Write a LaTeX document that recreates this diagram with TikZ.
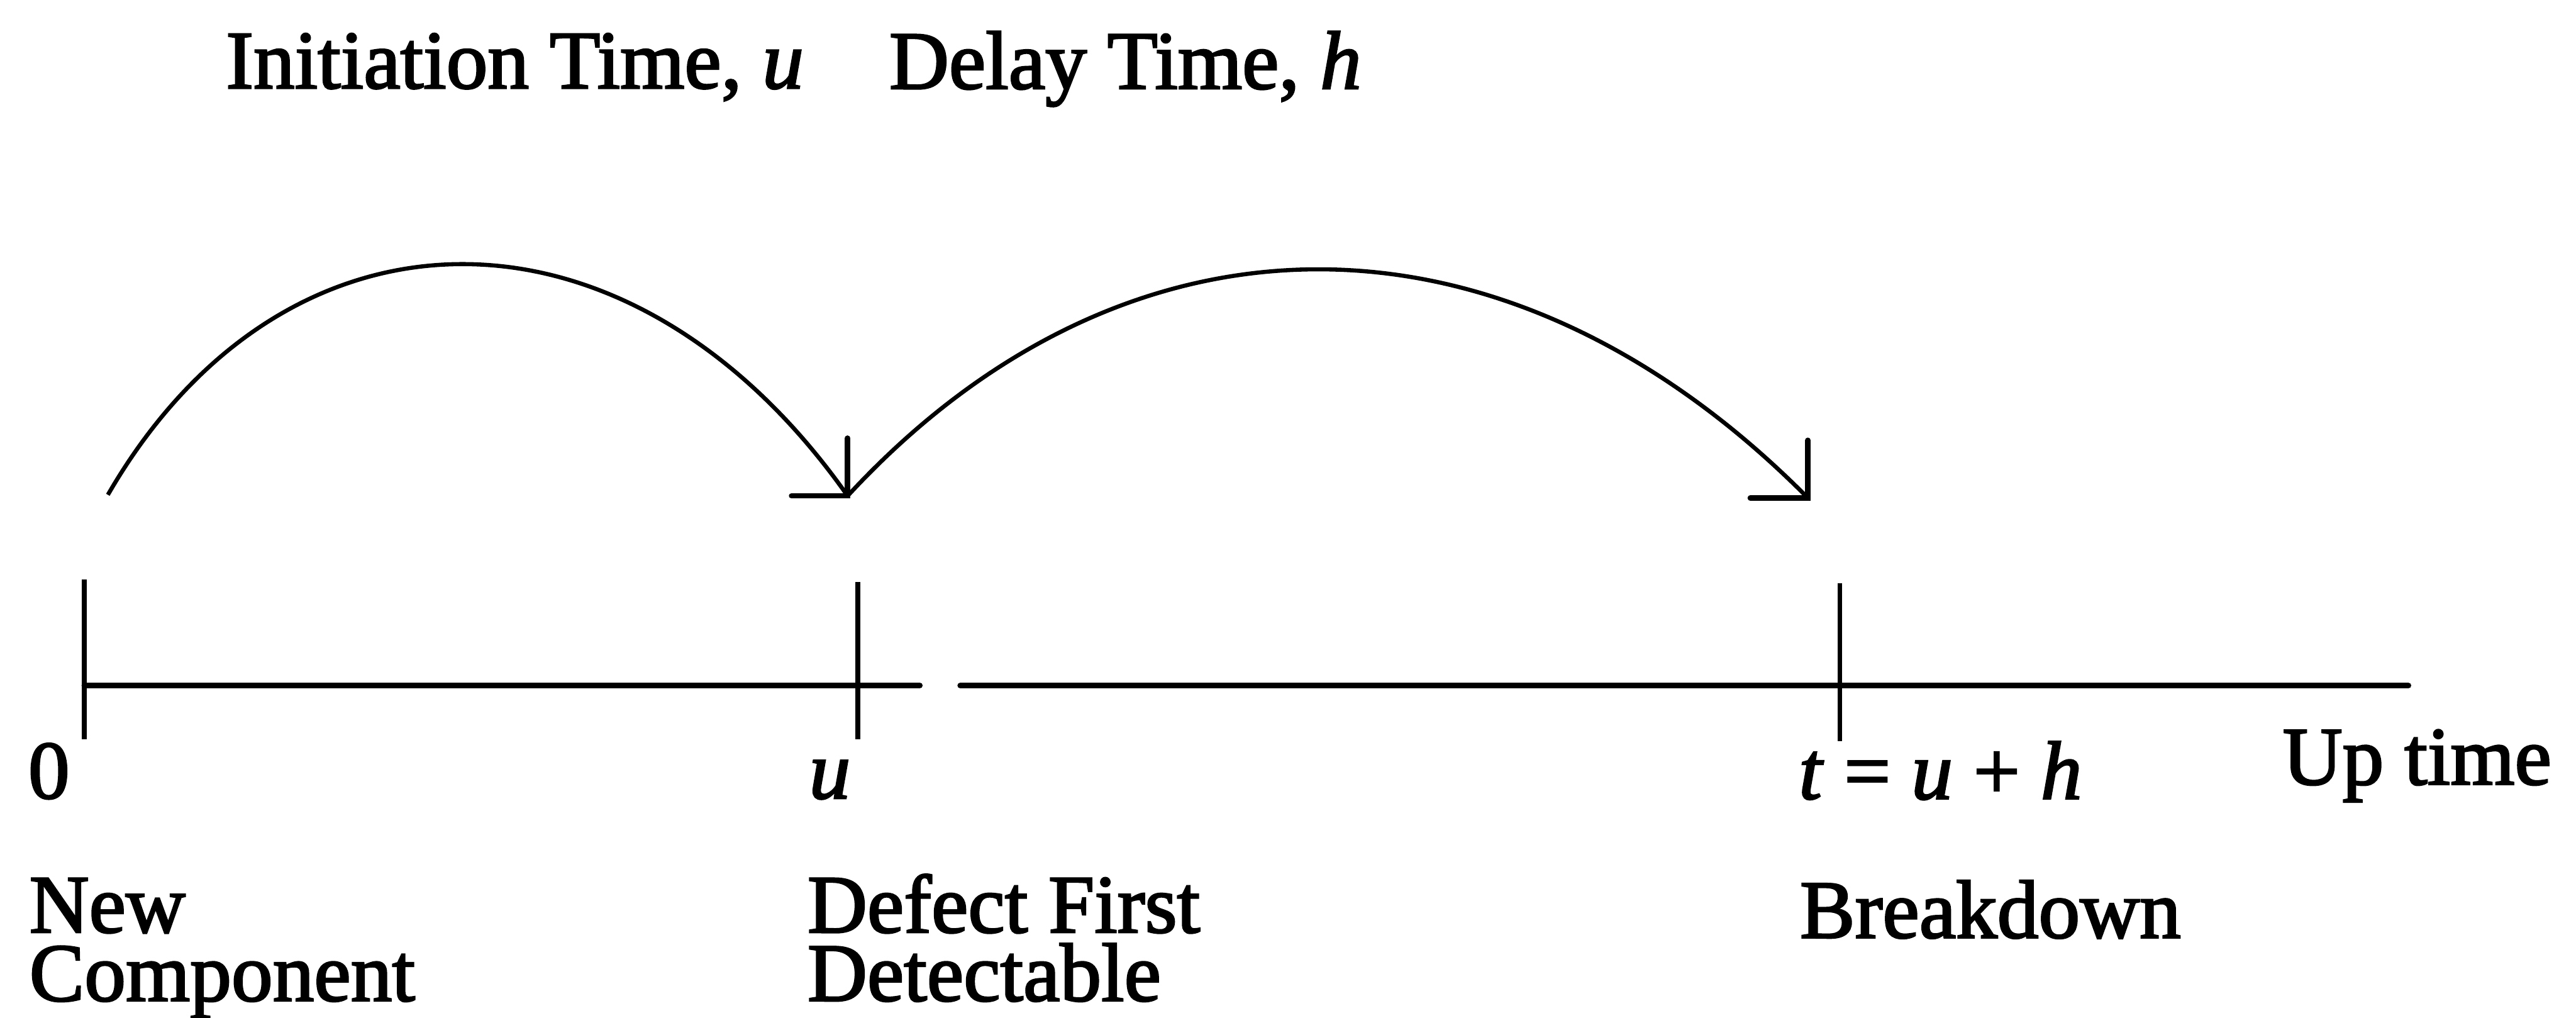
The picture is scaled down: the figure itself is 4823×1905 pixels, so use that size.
\documentclass[tikz,border=0pt]{standalone}
\usepackage{fontspec}
\setmainfont{Liberation Serif}[RawFeature={embolden=2.2}]
\usetikzlibrary{calc}
\newcommand\twolinelabel[2]{\vtop{\baselineskip=36.4pt\lineskiplimit=-100pt\hbox{#1}\hbox{#2}}}
\begin{document}
\begin{tikzpicture}[x=0.01cm,y=-0.01cm,
  lbl/.style={anchor=base west,inner sep=0pt,outer sep=0pt,font=\fontsize{44}{48}\selectfont},
  axisline/.style={line width=3.1pt,line cap=round},
  tickline/.style={line width=2.5pt},
  arcline/.style={line width=2.2pt},
  headarm/.style={line width=2.9pt,line cap=round,line join=miter}]
\useasboundingbox (0,0) rectangle (4823,1905);

% title
\node[lbl] (tinit) at (423,165) {Initiation Time, \textit{u}};
\node[lbl] (tdelay) at (1665,166) {Delay Time, \textit{h}};

% arcs
\coordinate (s0) at (202,926);
\coordinate (tipU) at (1587,928);
\coordinate (tipT) at (3385,932);
\draw[arcline] (s0) .. controls (535,350) and (1180,350) .. (tipU);
\draw[arcline] (tipU) .. controls (2110,362) and (2820,362) .. (tipT);
\draw[headarm] ($(tipU)+(-105,0)$) -- (tipU) -- ($(tipU)+(0,-108)$);
\draw[headarm] ($(tipT)+(-108,0)$) -- (tipT) -- ($(tipT)+(0,-108)$);

% axis
\coordinate (a0) at (158,1283);
\coordinate (a1) at (1722,1283);
\coordinate (a2) at (1798,1283);
\coordinate (a3) at (4509,1283);
\draw[axisline] (a0) -- (a1);
\draw[axisline] (a2) -- (a3);

% ticks
\coordinate (k0t) at (158,1085);
\coordinate (k0b) at (158,1384);
\coordinate (kut) at (1606,1089);
\coordinate (kub) at (1606,1384);
\coordinate (ktt) at (3445,1091);
\coordinate (ktb) at (3445,1387);
\draw[tickline] (k0t) -- (k0b);
\draw[tickline] (kut) -- (kub);
\draw[tickline] (ktt) -- (ktb);

% axis labels
\node[lbl] (l0) at (53,1494) {0};
\node[lbl] (lu) at (1515,1494) {\textit{u}};
\node[lbl] (lt) at (3368,1495) {\textit{t} = \textit{u} + \textit{h}};
\node[lbl] (lup) at (4274,1468) {Up time};

% event labels
\node[lbl] (newc) at (55,1745) {\twolinelabel{New}{Component}};
\node[lbl] (defd) at (1512,1745) {\twolinelabel{Defect First}{Detectable}};
\node[lbl] (brk) at (3370,1755) {Breakdown};
\end{tikzpicture}
\end{document}
